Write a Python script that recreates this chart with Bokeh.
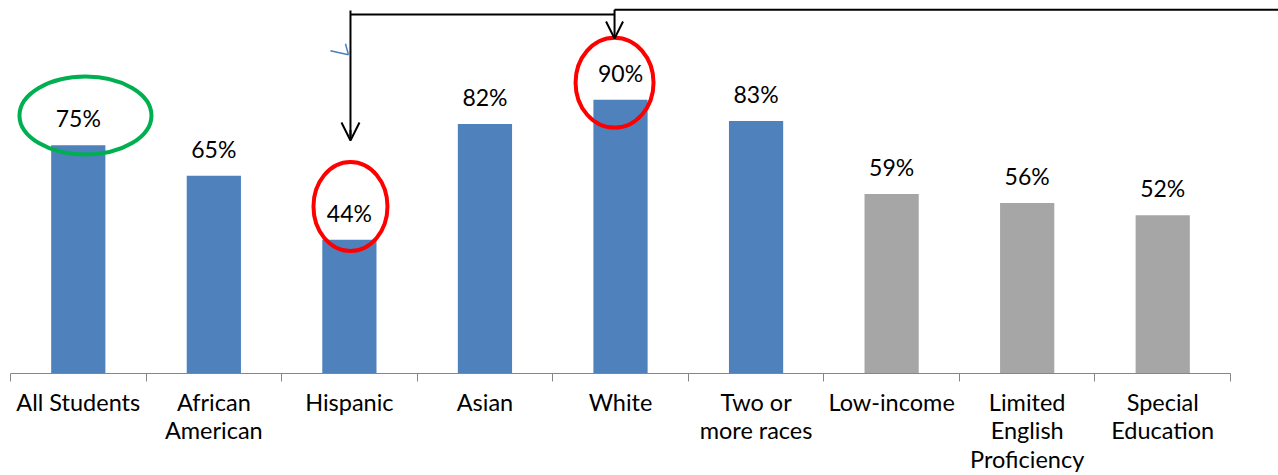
from bokeh.plotting import figure
from bokeh.models import ColumnDataSource, FixedTicker, Range1d, Arrow, OpenHead
from bokeh.core.properties import value
from bokeh.embed import file_html
from bokeh.resources import INLINE

# Graduation rates by student group
categories = ["All Students", "African\nAmerican", "Hispanic", "Asian", "White",
              "Two or\nmore races", "Low-income", "Limited\nEnglish\nProficiency",
              "Special\nEducation"]
rates = [75, 65, 44, 82, 90, 83, 59, 56, 52]
groups = ["race", "race", "race", "race", "race", "race", "program", "program", "program"]

BLUE = "#4F81BD"
GRAY = "#A6A6A6"
AXIS = "#868686"
FONT = "Lato"

n = len(categories)
centers = [i + 0.5 for i in range(n)]
bounds = list(range(n + 1))
colors = [BLUE if g == "race" else GRAY for g in groups]
labels = [f"{v}%" for v in rates]

src = ColumnDataSource(dict(x=centers, top=rates, color=colors, label=labels))

p = figure(frame_width=1278, frame_height=373,
           x_range=Range1d(-0.0738, 9.354), y_range=Range1d(0, 122.6),
           output_backend="svg", toolbar_location=None,
           y_axis_location=None,
           min_border_left=0, min_border_right=0, min_border_top=0,
           min_border_bottom=0)
p.outline_line_color = None
p.grid.visible = False
p.background_fill_color = "white"
p.border_fill_color = "white"

p.vbar(x="x", top="top", width=0.4, color="color", line_color=None, source=src)

p.text(x="x", y="top", text="label", source=src, y_offset=-27,
       text_align="center", text_baseline="alphabetic",
       text_font=value(FONT), text_font_size="23px", text_color="black")

ax = p.xaxis[0]
ax.ticker = FixedTicker(ticks=centers, minor_ticks=bounds)
ax.bounds = (0, n)
ax.major_label_overrides = {c: lab for c, lab in zip(centers, categories)}
ax.major_tick_line_color = None
ax.major_tick_out = 0
ax.major_tick_in = 0
ax.minor_tick_out = 8
ax.minor_tick_in = 0
ax.minor_tick_line_color = AXIS
ax.axis_line_color = AXIS
ax.axis_line_width = 1
ax.major_label_standoff = 6
ax.major_label_text_font = FONT
ax.major_label_text_font_size = "23.5px"
ax.major_label_text_line_height = 1.03
ax.major_label_text_color = "black"

# Highlight circles around the overall rate and the widest gap
p.ellipse(x=[0.553], y=[84.8], width=[132], height=[78],
          width_units="screen", height_units="screen",
          fill_color=None, line_color="#00B050", line_width=4)
p.ellipse(x=[2.508, 4.456], y=[54.9, 95.6], width=[74, 78], height=[89, 90],
          width_units="screen", height_units="screen",
          fill_color=None, line_color="#FF0000", line_width=4)

# Connector lines running between the circled groups
p.multi_line(xs=[[2.508, 4.456], [4.456, 9.6], [2.508, 2.508]],
             ys=[[118.0, 118.0], [119.6, 119.6], [119.3, 78.0]],
             line_color="black", line_width=2)
p.add_layout(Arrow(end=OpenHead(size=18, line_color="black", line_width=2),
                   x_start=2.508, y_start=80.0, x_end=2.508, y_end=76.6,
                   line_color="black", line_width=2))
p.add_layout(Arrow(end=OpenHead(size=17, line_color="black", line_width=2),
                   x_start=4.456, y_start=119.6, x_end=4.456, y_end=110.1,
                   line_color="black", line_width=2))

# Stray pen stroke beside the left connector
p.multi_line(xs=[[2.36, 2.493], [2.471, 2.493]], ys=[[106.1, 104.8], [108.4, 104.8]],
             line_color="#4A7EBB", line_width=1.5)

open("out.html", "w").write(file_html(p, INLINE))
